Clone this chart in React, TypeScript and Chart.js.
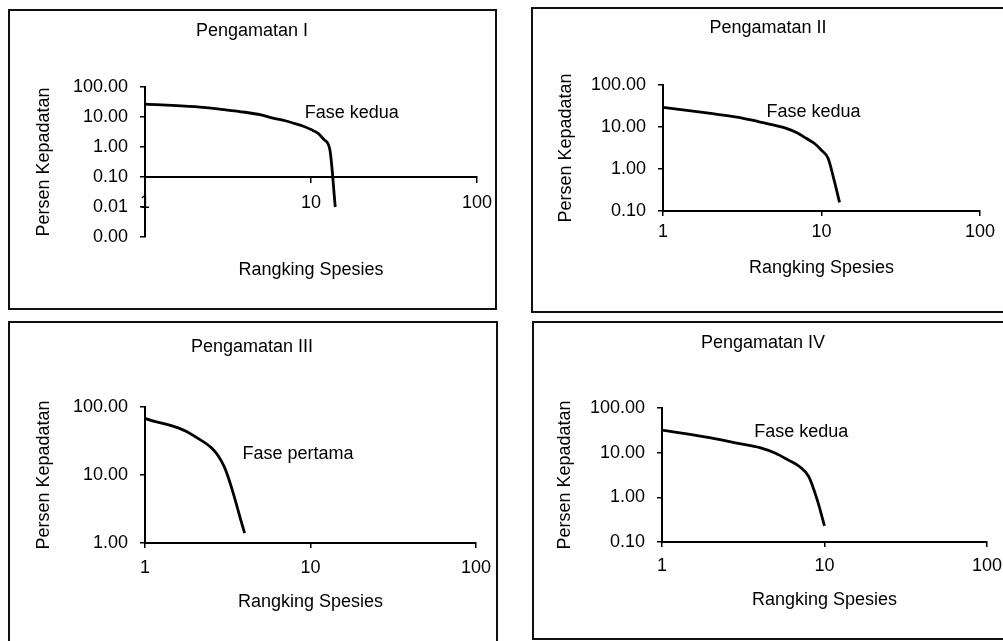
import React, { useEffect, useRef } from 'react';
import { Chart, registerables } from 'chart.js';

Chart.register(...registerables);

// ---------- data ----------
const panelTitles = ['Pengamatan I', 'Pengamatan II', 'Pengamatan III', 'Pengamatan IV'];
const xAxisTitle = 'Rangking Spesies';
const yAxisTitle = 'Persen Kepadatan';
const phaseNotes = ['Fase kedua', 'Fase kedua', 'Fase pertama', 'Fase kedua'];
// note anchors in data units (rank, percent)
const noteRank = [17.6, 8.9, 8.4, 7.2];
const notePercent = [13.6, 22.8, 20, 29];

const xTicks = [1, 10, 100];
const xTickLabels = ['1', '10', '100'];

const ranksI = [1, 2, 3, 4, 5, 6, 7, 8, 9, 10, 11, 12, 13, 14];
const densityI = [27, 22, 17.5, 14.4, 11.7, 9, 7.5, 6, 4.9, 3.8, 2.9, 1.75, 0.8, 0.01];

const ranksII = [1, 2, 3, 4, 5, 6, 7, 8, 9, 10, 11, 12, 13];
const densityII = [29.5, 21, 17, 13.4, 11.1, 9.3, 7.3, 5.4, 4.1, 2.8, 1.8, 0.55, 0.16];

const ranksIII = [1, 2, 3, 4];
const densityIII = [68, 37, 13.5, 1.4];

const ranksIV = [1, 2, 3, 4, 5, 6, 7, 8, 9, 10];
const densityIV = [32, 21.5, 16, 13, 9.7, 6.8, 4.9, 2.9, 0.9, 0.23];

const yTicksI = [0.001, 0.01, 0.1, 1, 10, 100];
const yTickLabelsI = ['0.00', '0.01', '0.10', '1.00', '10.00', '100.00'];
const yTicksII = [0.1, 1, 10, 100];
const yTickLabelsII = ['0.10', '1.00', '10.00', '100.00'];
const yTicksIII = [1, 10, 100];
const yTickLabelsIII = ['1.00', '10.00', '100.00'];
const yTicksIV = [0.1, 1, 10, 100];
const yTickLabelsIV = ['0.10', '1.00', '10.00', '100.00'];

// value on the y axis where the x axis crosses (null = at the bottom)
const xAxisCrossesAt: (number | null)[] = [0.1, null, null, null];

const RANKS = [ranksI, ranksII, ranksIII, ranksIV];
const DENSITY = [densityI, densityII, densityIII, densityIV];
const Y_TICKS = [yTicksI, yTicksII, yTicksIII, yTicksIV];
const Y_TICK_LABELS = [yTickLabelsI, yTickLabelsII, yTickLabelsIII, yTickLabelsIV];

// ---------- layout (page pixels) ----------
const PANELS = [
  { box: [8, 9, 489, 301], area: [145, 87, 477, 237], titleXY: [252, 31], yTitleX: 44, xTitleY: 270, xLabelGap: 26 },
  { box: [531, 7, 482, 306], area: [663, 85, 980, 211], titleXY: [768, 28], yTitleX: 566, xTitleY: 268, xLabelGap: 21.5 },
  { box: [8, 321, 490, 330], area: [145, 407, 476, 543], titleXY: [252, 347], yTitleX: 44, xTitleY: 602, xLabelGap: 25.5 },
  { box: [532, 321, 482, 319], area: [662, 408, 987, 542], titleXY: [763, 343], yTitleX: 565, xTitleY: 600, xLabelGap: 24.5 },
];

const FONT_FAMILY = '"Liberation Sans", Arial, sans-serif';
const FONT_SIZE = 18;
const BORDER = 2;
const TICK_LEN = 5;

const textPlugin = {
  id: 'panelText',
  afterDraw(chart: any, _args: any, opts: any) {
    const { ctx, scales, chartArea } = chart;
    ctx.save();
    ctx.fillStyle = '#000';
    ctx.font = `${FONT_SIZE}px ${FONT_FAMILY}`;
    ctx.textAlign = 'center';
    ctx.textBaseline = 'middle';
    // panel title
    ctx.fillText(opts.title, opts.titleX, opts.titleY);
    // phase note
    ctx.fillText(opts.note, scales.x.getPixelForValue(opts.noteX), scales.y.getPixelForValue(opts.noteY));
    // y axis title
    ctx.translate(opts.yTitleX, (chartArea.top + chartArea.bottom) / 2);
    ctx.rotate(-Math.PI / 2);
    ctx.fillText(opts.yTitle, 0, 0);
    ctx.restore();
  },
};

function Panel({ idx }: { idx: number }) {
  const ref = useRef<HTMLCanvasElement>(null);
  const g = PANELS[idx];
  const cx = g.box[0] + BORDER;
  const cy = g.box[1] + BORDER;
  const cw = g.box[2] - 2 * BORDER;
  const ch = g.box[3] - 2 * BORDER;

  useEffect(() => {
    if (!ref.current) return;
    const L = g.area[0] - cx;
    const T = g.area[1] - cy;
    const R = g.area[2] - cx;
    const B = g.area[3] - cy;
    const yT = Y_TICKS[idx];
    const yLab = Y_TICK_LABELS[idx];
    const yMin = yT[0];
    const yMax = yT[yT.length - 1];
    const cross = xAxisCrossesAt[idx];
    const lh = FONT_SIZE * 1.2;
    let crossPix = B;
    if (cross != null) {
      crossPix = T + ((Math.log10(yMax) - Math.log10(cross)) / (Math.log10(yMax) - Math.log10(yMin))) * (B - T);
    }
    const xH = g.xTitleY - cy - crossPix + lh / 2;
    const padBottom = cross != null ? ch - B : ch - B - xH;
    const xTickPad = g.xLabelGap - TICK_LEN - lh / 2;
    const font = { family: FONT_FAMILY, size: FONT_SIZE };

    const chart = new Chart(ref.current, {
      type: 'line',
      data: {
        datasets: [
          {
            data: RANKS[idx].map((r, i) => ({ x: r, y: DENSITY[idx][i] })),
            borderColor: '#000',
            borderWidth: 2.8,
            pointRadius: 0,
            cubicInterpolationMode: 'monotone',
            fill: false,
          },
        ],
      },
      options: {
        responsive: false,
        devicePixelRatio: 1,
        animation: false,
        layout: { padding: { left: 0, top: T, right: cw - R, bottom: padBottom } },
        plugins: {
          legend: { display: false },
          title: { display: false },
          tooltip: { enabled: false },
          panelText: {
            title: panelTitles[idx],
            titleX: g.titleXY[0] - cx,
            titleY: g.titleXY[1] - cy,
            note: phaseNotes[idx],
            noteX: noteRank[idx],
            noteY: notePercent[idx],
            yTitle: yAxisTitle,
            yTitleX: g.yTitleX - cx,
          },
        } as any,
        scales: {
          x: {
            type: 'logarithmic',
            min: xTicks[0],
            max: xTicks[xTicks.length - 1],
            position: cross != null ? { y: cross } : 'bottom',
            afterBuildTicks: (s: any) => {
              s.ticks = xTicks.map((v) => ({ value: v }));
            },
            afterFit: (s: any) => {
              s.height = xH;
              s.paddingLeft = 0;
              s.paddingRight = 0;
            },
            ticks: {
              autoSkip: false,
              maxRotation: 0,
              color: '#000',
              font,
              padding: xTickPad,
              callback: (_v: any, i: number) => xTickLabels[i],
            },
            grid: { display: true, drawOnChartArea: false, drawTicks: true, tickLength: TICK_LEN, color: '#000', lineWidth: 1.5 },
            border: { display: true, color: '#000', width: 2 },
            title: { display: true, text: xAxisTitle, color: '#000', font, padding: 0 },
          } as any,
          y: {
            type: 'logarithmic',
            min: yMin,
            max: yMax,
            position: 'left',
            afterBuildTicks: (s: any) => {
              s.ticks = yT.map((v) => ({ value: v }));
            },
            afterFit: (s: any) => {
              s.width = L;
              s.paddingTop = 0;
              s.paddingBottom = 0;
            },
            ticks: {
              autoSkip: false,
              color: '#000',
              font,
              padding: 12,
              callback: (_v: any, i: number) => yLab[i],
            },
            grid: { display: true, drawOnChartArea: false, drawTicks: true, tickLength: TICK_LEN, color: '#000', lineWidth: 1.5 },
            border: { display: true, color: '#000', width: 2 },
          } as any,
        },
      },
      plugins: [textPlugin as any],
    });
    return () => chart.destroy();
  }, []);

  return (
    <div
      style={{
        position: 'absolute',
        left: g.box[0],
        top: g.box[1],
        width: g.box[2],
        height: g.box[3],
        border: `${BORDER}px solid #111`,
        boxSizing: 'border-box',
        overflow: 'hidden',
      }}
    >
      <canvas
        ref={ref}
        width={cw}
        height={ch}
        style={{ position: 'absolute', left: 0, top: 0, width: cw, height: ch, display: 'block' }}
      />
    </div>
  );
}

export default function App() {
  return (
    <div
      style={{
        position: 'absolute',
        left: 0,
        top: 0,
        width: 1003,
        height: 641,
        overflow: 'hidden',
        background: '#fff',
      }}
    >
      {[0, 1, 2, 3].map((i) => (
        <Panel key={i} idx={i} />
      ))}
    </div>
  );
}
